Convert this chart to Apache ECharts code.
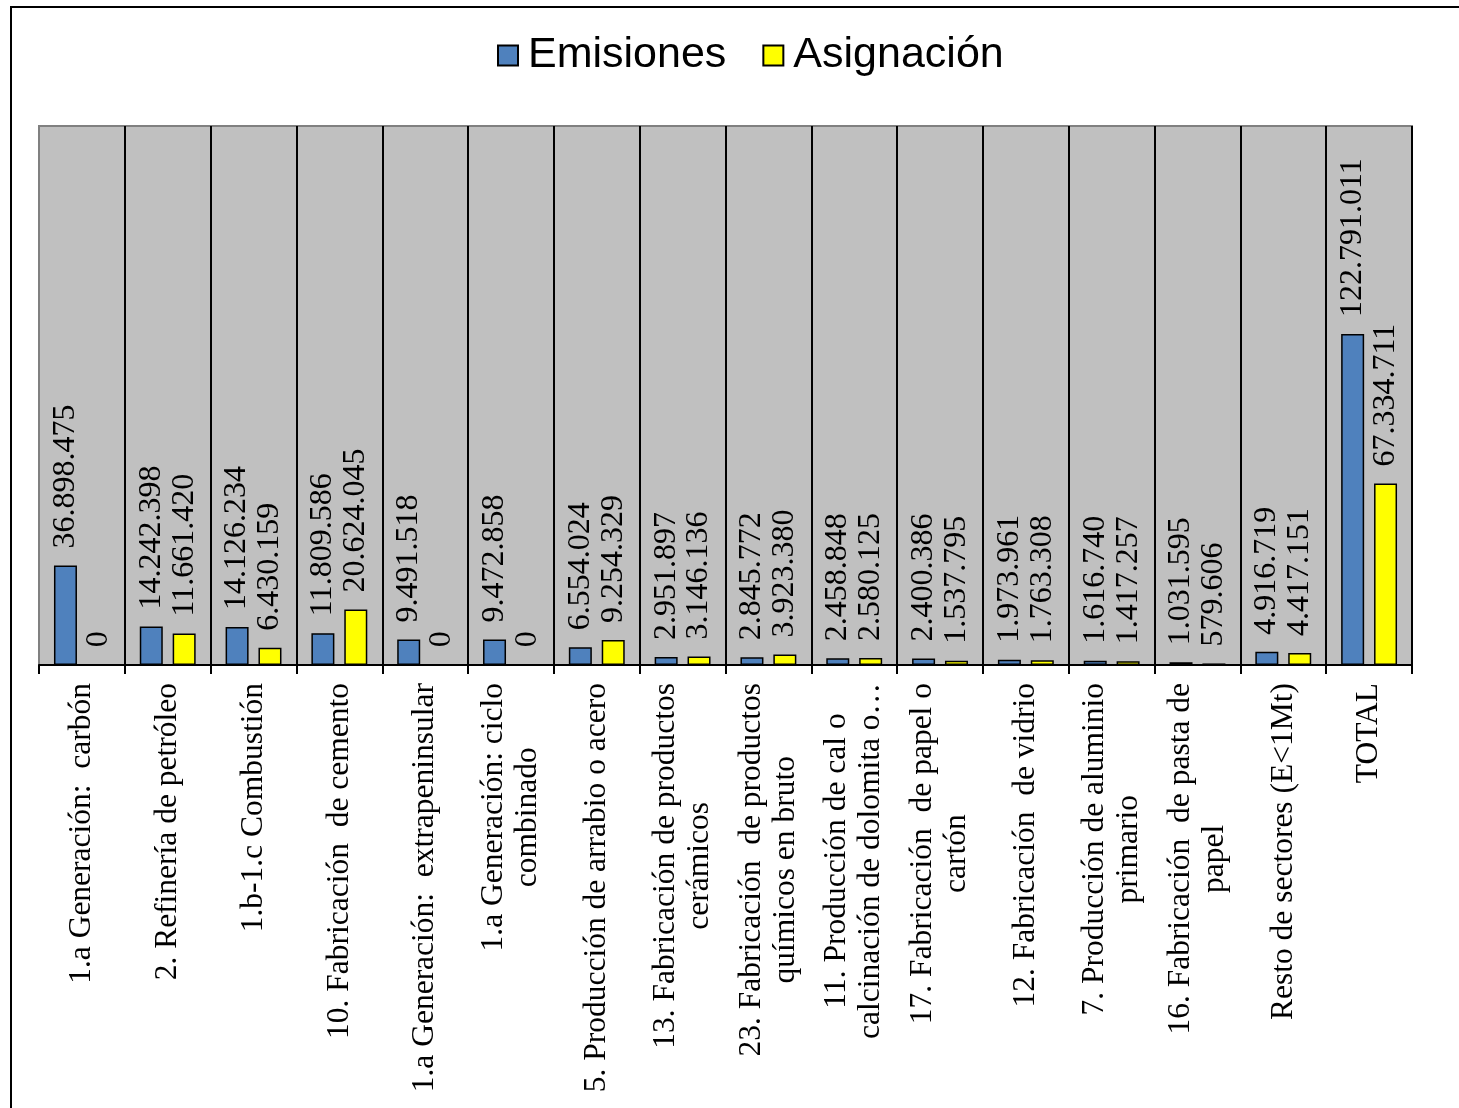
<!DOCTYPE html>
<html>
<head>
<meta charset="utf-8">
<script src="https://cdn.jsdelivr.net/npm/echarts@6/dist/echarts.min.js"></script>
<style>
html,body{margin:0;padding:0;background:#fff;}
#chart{width:1459px;height:1108px;}
</style>
</head>
<body>
<div id="chart"></div>
<script>
const categories = [
  "1.a Generación:  carbón",
  "2. Refinería de petróleo",
  "1.b-1.c Combustión",
  "10. Fabricación  de cemento",
  "1.a Generación:  extrapeninsular",
  "1.a Generación: ciclo\ncombinado",
  "5. Producción de arrabio o acero",
  "13. Fabricación de productos\ncerámicos",
  "23. Fabricación  de productos\nquímicos en bruto",
  "11. Producción de cal o\ncalcinación de dolomita o…",
  "17. Fabricación  de papel o\ncartón",
  "12. Fabricación  de vidrio",
  "7. Producción de aluminio\nprimario",
  "16. Fabricación  de pasta de\npapel",
  "Resto de sectores (E<1Mt)",
  "TOTAL"
];
const emisiones = [36898475, 14242398, 14126234, 11809586, 9491518, 9472858, 6554024, 2951897, 2845772, 2458848, 2400386, 1973961, 1616740, 1031595, 4916719, 122791011];
const asignacion = [0, 11661420, 6430159, 20624045, 0, 0, 9254329, 3146136, 3923380, 2580125, 1537795, 1763308, 1417257, 579606, 4417151, 67334711];
const seriesNames = ["Emisiones", "Asignación"];

const serif = '"Liberation Serif", "Times New Roman", serif';
const fmt = v => String(v).replace(/\B(?=(\d{3})+(?!\d))/g, '.');

const chart = echarts.init(document.getElementById('chart'), null, {renderer: 'canvas'});
const barLabel = {
  show: true,
  position: 'top',
  rotate: 90,
  align: 'left',
  verticalAlign: 'middle',
  distance: 17,
  fontFamily: serif,
  fontSize: 32,
  color: '#000',
  formatter: p => fmt(p.value)
};
chart.setOption({
  animation: false,
  backgroundColor: '#fff',
  graphic: [{
    type: 'rect',
    z: -10,
    shape: {x: 11, y: 7, width: 1600, height: 1300},
    style: {fill: 'none', stroke: '#000', lineWidth: 2}
  }],
  legend: {
    top: 29,
    left: 492,
    icon: 'rect',
    itemWidth: 20,
    itemHeight: 20,
    itemGap: 36,
    data: seriesNames,
    itemStyle: {borderColor: '#000', borderWidth: 2},
    textStyle: {fontFamily: '"Liberation Sans", Arial, sans-serif', fontSize: 43, color: '#000', padding: [0, 0, 0, 5]}
  },
  grid: {
    left: 39, right: 47, top: 126, bottom: 443,
    show: true,
    backgroundColor: '#c0c0c0',
    borderColor: '#808080',
    borderWidth: 2
  },
  xAxis: {
    type: 'category',
    data: categories,
    axisLine: {lineStyle: {color: '#000', width: 2}},
    axisTick: {show: true, length: 9, interval: 0, lineStyle: {color: '#000', width: 2}},
    splitLine: {show: true, interval: function (i) { return i > 0 && i < categories.length; }, lineStyle: {color: '#000', width: 2}},
    axisLabel: {
      interval: 0,
      rotate: 90,
      margin: 18,
      formatter: v => v.split('\n').map(s => '{c|' + s + '}').join('\n'),
      rich: {
        c: {align: 'center', fontFamily: serif, fontSize: 31.5, lineHeight: 34, color: '#000'}
      }
    }
  },
  yAxis: {
    type: 'value',
    min: 0,
    max: 200000000,
    show: false,
    splitLine: {show: false}
  },
  series: [
    {
      name: seriesNames[0],
      type: 'bar',
      data: emisiones,
      barWidth: 23,
      barGap: '43%',
      itemStyle: {color: '#4F81BD', borderColor: '#000', borderWidth: 1.5},
      label: barLabel
    },
    {
      name: seriesNames[1],
      type: 'bar',
      data: asignacion,
      barWidth: 23,
      itemStyle: {color: '#FFFF00', borderColor: '#000', borderWidth: 1.5},
      label: barLabel
    }
  ]
});
</script>
</body>
</html>
